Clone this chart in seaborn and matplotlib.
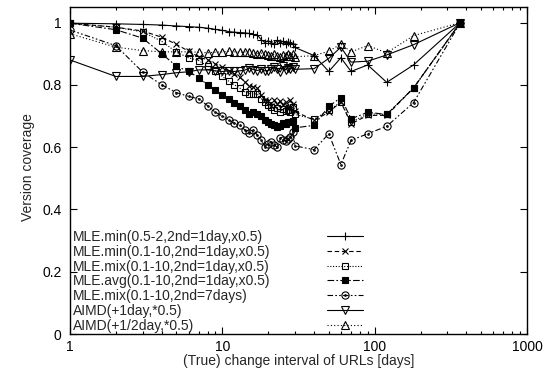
import matplotlib
matplotlib.use("Agg")
import matplotlib.pyplot as plt
import seaborn as sns
from matplotlib.path import Path
from matplotlib.lines import Line2D
from matplotlib.ticker import FixedLocator, NullFormatter, LogLocator

# ---- data -------------------------------------------------------------
days = list(range(1, 31)) + [40, 50, 60, 70, 90, 120, 180, 365]

mle_min_05_2 = [0.998, 0.996, 0.994, 0.992, 0.989, 0.987, 0.985, 0.982, 0.978, 0.975,
                0.971, 0.969, 0.968, 0.967, 0.965, 0.962, 0.960, 0.945, 0.936, 0.942,
                0.935, 0.932, 0.944, 0.934, 0.940, 0.932, 0.938, 0.936, 0.930, 0.920,
                0.894, 0.843, 0.887, 0.843, 0.864, 0.808, 0.864, 1.000]
mle_min_01_10 = [0.998, 0.985, 0.973, 0.953, 0.930, 0.908, 0.890, 0.880, 0.867, 0.857,
                 0.846, 0.835, 0.825, 0.810, 0.797, 0.793, 0.790, 0.766, 0.752, 0.748,
                 0.732, 0.750, 0.738, 0.748, 0.735, 0.745, 0.730, 0.750, 0.738, 0.715,
                 0.686, 0.712, 0.745, 0.675, 0.702, 0.702, 0.790, 1.000]
mle_mix_01_10 = [0.998, 0.985, 0.970, 0.940, 0.905, 0.887, 0.878, 0.860, 0.845, 0.827,
                 0.812, 0.800, 0.790, 0.778, 0.772, 0.772, 0.770, 0.755, 0.745, 0.735,
                 0.730, 0.720, 0.725, 0.712, 0.722, 0.715, 0.720, 0.712, 0.730, 0.705,
                 0.690, 0.718, 0.745, 0.680, 0.707, 0.705, 0.790, 1.000]
mle_avg_01_10 = [0.998, 0.977, 0.950, 0.900, 0.860, 0.843, 0.823, 0.800, 0.782, 0.769,
                 0.755, 0.742, 0.731, 0.720, 0.707, 0.712, 0.705, 0.700, 0.687, 0.682,
                 0.675, 0.672, 0.664, 0.668, 0.677, 0.674, 0.680, 0.680, 0.683, 0.662,
                 0.670, 0.731, 0.759, 0.691, 0.712, 0.705, 0.790, 1.000]
mle_mix_7days = [0.976, 0.926, 0.841, 0.800, 0.775, 0.763, 0.755, 0.733, 0.712, 0.700,
                 0.688, 0.676, 0.670, 0.656, 0.645, 0.655, 0.638, 0.622, 0.602, 0.611,
                 0.617, 0.606, 0.600, 0.630, 0.623, 0.620, 0.627, 0.632, 0.648, 0.604,
                 0.592, 0.643, 0.544, 0.622, 0.643, 0.667, 0.743, 1.000]
aimd_1day = [0.880, 0.827, 0.827, 0.833, 0.839, 0.842, 0.848, 0.848, 0.845, 0.843,
             0.845, 0.843, 0.845, 0.847, 0.854, 0.849, 0.846, 0.850, 0.845, 0.846,
             0.852, 0.857, 0.850, 0.841, 0.859, 0.848, 0.855, 0.851, 0.857, 0.850,
             0.852, 0.885, 0.921, 0.873, 0.876, 0.896, 0.929, 1.000]
aimd_half_day = [0.964, 0.921, 0.910, 0.906, 0.906, 0.906, 0.905, 0.903, 0.905, 0.906,
                 0.908, 0.906, 0.905, 0.906, 0.905, 0.903, 0.900, 0.902, 0.898, 0.895,
                 0.892, 0.900, 0.894, 0.890, 0.897, 0.892, 0.900, 0.893, 0.898, 0.890,
                 0.894, 0.908, 0.931, 0.906, 0.926, 0.903, 0.958, 1.000]

labels = ["MLE.min(0.5-2,2nd=1day,x0.5)",
          "MLE.min(0.1-10,2nd=1day,x0.5)",
          "MLE.mix(0.1-10,2nd=1day,x0.5)",
          "MLE.avg(0.1-10,2nd=1day,x0.5)",
          "MLE.mix(0.1-10,2nd=7days)",
          "AIMD(+1day,*0.5)",
          "AIMD(+1/2day,*0.5)"]
series = [mle_min_05_2, mle_min_01_10, mle_mix_01_10, mle_avg_01_10,
          mle_mix_7days, aimd_1day, aimd_half_day]

x_ticks = [1, 10, 100, 1000]
x_ticklabels = ["1", "10", "100", "1000"]
y_ticks = [0, 0.2, 0.4, 0.6, 0.8, 1.0]
y_ticklabels = ["0", "0.2", "0.4", "0.6", "0.8", "1"]

# ---- style ------------------------------------------------------------
sns.set_theme(style="ticks")
plt.rcParams['font.family'] = ['Liberation Sans', 'DejaVu Sans']
FS = 10

circdot = Path.make_compound_path(Path.unit_circle(), Path.circle((0, 0), 0.22))

styles = [
    dict(marker='+', ms=6, mfc='black', dashes=(None, None), ls='-'),
    dict(marker='x', ms=4.5, mfc='black', dashes=(4, 2.5)),
    dict(marker='s', ms=4.5, mfc='none', dashes=(1, 1.5)),
    dict(marker='s', ms=4.5, mfc='black', dashes=(6, 2, 1.5, 2)),
    dict(marker=circdot, ms=5.2, mfc='none', dashes=(5, 2, 1.5, 2, 1.5, 2)),
    dict(marker='v', ms=5.2, mfc='none', dashes=(None, None), ls='-'),
    dict(marker='^', ms=5.2, mfc='none', dashes=(1, 2)),
]

fig = plt.figure(figsize=(5.45, 3.82), dpi=100)
ax = fig.add_axes([70 / 545, 1 - 334 / 382, 457 / 545, 327 / 382])

lines = []
for vals, lab, st in zip(series, labels, styles):
    kw = dict(color='black', lw=0.8, marker=st['marker'], markersize=st['ms'],
              markerfacecolor=st['mfc'], markeredgecolor='black', markeredgewidth=0.8)
    if st.get('ls') == '-':
        kw['linestyle'] = '-'
    else:
        kw['dashes'] = st['dashes']
    sns.lineplot(x=days, y=vals, ax=ax, label=lab, legend=False, **kw)
    lines.append(ax.lines[-1])

ax.set_xscale('log')
ax.set_xlim(1, 1000)
ax.set_ylim(0, 1.05)
ax.xaxis.set_major_locator(FixedLocator(x_ticks))
ax.set_xticklabels(x_ticklabels)
ax.xaxis.set_minor_locator(LogLocator(base=10, subs=range(2, 10)))
ax.xaxis.set_minor_formatter(NullFormatter())
ax.set_yticks(y_ticks)
ax.set_yticklabels(y_ticklabels)
ax.tick_params(which='both', direction='in', top=True, right=True, width=0.8,
               labelsize=FS, colors='black')
ax.tick_params(which='major', length=5)
ax.tick_params(which='minor', length=2.5)
ax.tick_params(axis='x', pad=4)
ax.tick_params(axis='y', pad=6)
for s in ax.spines.values():
    s.set_linewidth(1.0)
    s.set_color('black')

ax.set_xlabel("(True) change interval of URLs [days]", fontsize=FS)
ax.set_ylabel("Version coverage", fontsize=FS)
ax.xaxis.set_label_coords(0.501, -0.062)
ax.yaxis.set_label_coords(-0.077, 0.51)

# legend: labels on the left, samples on the right (gnuplot-style key)
txt_handles = [Line2D([], [], linestyle='none') for _ in labels]
leg1 = ax.legend(handles=txt_handles, labels=labels, loc='center left',
                 bbox_to_anchor=(0.0066, 0.161), handlelength=0, handletextpad=0,
                 frameon=False, borderpad=0, borderaxespad=0, labelspacing=0.06,
                 fontsize=FS)
ax.add_artist(leg1)
leg2 = ax.legend(handles=lines, labels=[''] * len(lines), loc='center',
                 bbox_to_anchor=(0.602, 0.161), handlelength=2.6, handletextpad=0,
                 frameon=False, borderpad=0, borderaxespad=0, labelspacing=0.06,
                 fontsize=FS)

fig.savefig("out.png", dpi=100)
